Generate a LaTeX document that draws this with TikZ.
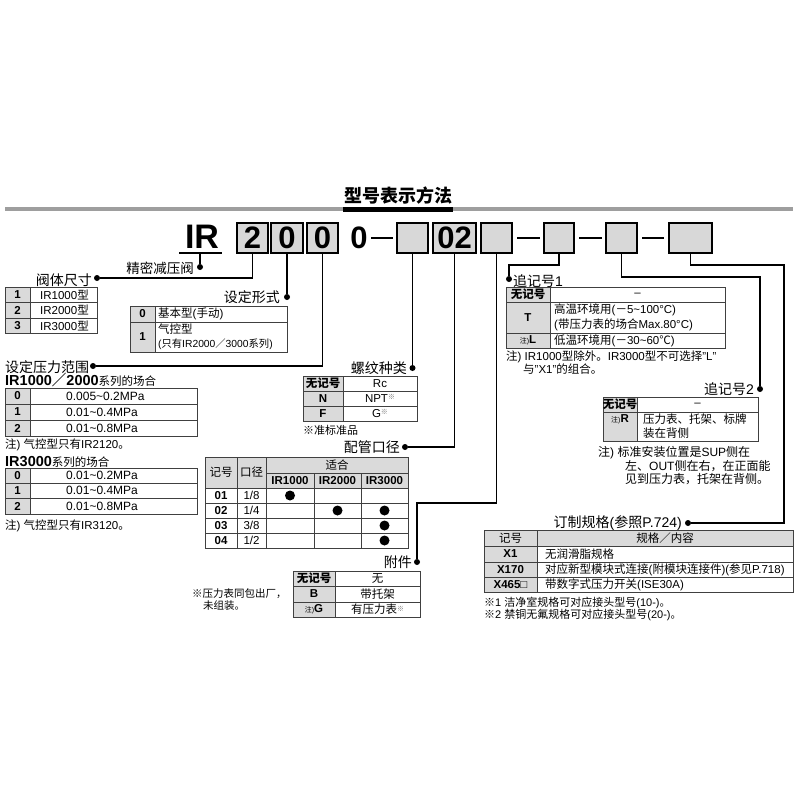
\documentclass[tikz,border=0pt]{standalone}
\usepackage{fontspec}
\setmainfont{Liberation Sans}
\newfontfamily\cjk{Noto Sans CJK SC}
\XeTeXinterchartokenstate=1
\newXeTeXintercharclass\cjkclass
\makeatletter
\count@="4E00
\loop \XeTeXcharclass\count@=\cjkclass \advance\count@ 1 \ifnum\count@<"A000 \repeat
\count@="3000
\loop \XeTeXcharclass\count@=\cjkclass \advance\count@ 1 \ifnum\count@<"3040 \repeat
\count@="FF00
\loop \XeTeXcharclass\count@=\cjkclass \advance\count@ 1 \ifnum\count@<"FFF0 \repeat
\makeatother
\XeTeXcharclass"203B=\cjkclass
\XeTeXcharclass"2103=\cjkclass
\XeTeXinterchartoks 0 \cjkclass = {\begingroup\cjk}
\XeTeXinterchartoks 4095 \cjkclass = {\begingroup\cjk}
\XeTeXinterchartoks \cjkclass 0 = {\endgroup}
\XeTeXinterchartoks \cjkclass 4095 = {\endgroup}
\newcommand\fsz[1]{\fontsize{#1}{#1}\selectfont}
\newcommand\tld{\char"7E\relax}
\newcommand\supmark{\raisebox{0.45ex}{\fsz{7}\color{black!55}※}}
\newcommand\zhu{{\fsz{7}注)}}
\definecolor{cellgray}{RGB}{218,218,218}
\definecolor{boxgray}{RGB}{216,216,216}
\definecolor{bargray}{RGB}{158,158,158}
\begin{document}
\begin{tikzpicture}[x=1pt,y=-1pt,
  lbl/.style={inner sep=0pt, font=\fsz{14}},
  tt/.style={inner sep=0pt, font=\fsz{11.5}},
  tb/.style={inner sep=0pt, font=\fsz{11.5}\bfseries},
  codebox/.style={draw, line width=1.2pt, fill=boxgray, minimum height=30pt, inner sep=0pt, font=\fsz{31}\bfseries},
  jdot/.style={circle, fill, inner sep=0pt, minimum size=6pt},
  conn/.style={line width=1.4pt},
  tbl/.style={draw=black!75, line width=0.7pt},
  pdot/.style={fill=black}]
\useasboundingbox (0,0) rectangle (800,800);
\fill[white] (0,0) rectangle (800,800);

% ---- title
\draw[line width=4pt, bargray] (5,209) -- (793,209);
\draw[line width=5pt] (343,209) -- (453,209);
\node[inner sep=0pt, font=\fsz{18}\bfseries] (title) at (398,196) {型号表示方法};

% ---- code row
\node[inner sep=0pt, font=\fsz{34}\bfseries] (ir) at (202,237) {IR};
\draw[line width=1.3pt] (179,253) -- (222,253);
\coordinate (iru) at (200,253);
\node[codebox, minimum width=31pt] (b1) at (252.5,238) {2};
\node[codebox, minimum width=32pt] (b2) at (287,238) {0};
\node[codebox, minimum width=31pt] (b3) at (322.5,238) {0};
\node[inner sep=0pt, font=\fsz{31}\bfseries] (z0) at (359,238) {0};
\draw[line width=1.6pt] (371,238) -- (393,238);
\node[codebox, minimum width=31pt] (b4) at (412.5,238) {};
\node[codebox, minimum width=43pt] (b5) at (454.5,238) {02};
\node[codebox, minimum width=31pt] (b6) at (496.5,238) {};
\draw[line width=1.6pt] (517,238) -- (540,238);
\node[codebox, minimum width=30pt] (b7) at (559,238) {};
\draw[line width=1.6pt] (579,238) -- (602,238);
\node[codebox, minimum width=31pt] (b8) at (621.5,238) {};
\draw[line width=1.6pt] (642,238) -- (664,238);
\node[codebox, minimum width=43pt] (b9) at (690.5,238) {};

% ---- dots and labels
\node[jdot] (d0) at (200,267) {};
\node[lbl, anchor=east, font=\fsz{13.5}] (l0) at (194,268) {精密减压阀};
\node[jdot] (d1) at (97,278) {};
\node[lbl, anchor=east] (l1) at (92,280) {阀体尺寸};
\node[jdot] (d2) at (287,297) {};
\node[lbl, anchor=east] (l2) at (280,297) {设定形式};
\node[jdot] (d3) at (93,366) {};
\node[lbl, anchor=west] (l3) at (5,367) {设定压力范围};
\node[jdot] (d4) at (412.5,368) {};
\node[lbl, anchor=east] (l4) at (407,368) {螺纹种类};
\node[jdot] (d5) at (405,447) {};
\node[lbl, anchor=east] (l5) at (400,447) {配管口径};
\node[jdot] (d6) at (417,562) {};
\node[lbl, anchor=east] (l6) at (412,562) {附件};
\node[jdot] (d7) at (509,279) {};
\node[lbl, anchor=west] (l7) at (513,281) {追记号1};
\node[jdot] (d8) at (760,389) {};
\node[lbl, anchor=east] (l8) at (754,389) {追记号2};
\node[jdot] (d9) at (688,523) {};
\node[lbl, anchor=east] (l9) at (682,523) {订制规格(参照P.724)};

\coordinate (k6) at (417,503);
\coordinate (k7) at (509,265);
\coordinate (k8) at (760,277);
\coordinate (k9) at (784,265);

% ---- connectors
\draw[conn] (iru) -- (d0);
\draw[conn] (b1.south) |- (d1);
\draw[conn] (b2.south) -- (d2);
\draw[conn] (b3.south) |- (d3);
\draw[conn] (b4.south) -- (d4);
\draw[conn] (b5.south) |- (d5);
\draw[conn] (b6.south) |- (k6) -- (d6);
\draw[conn] (b7.south) |- (k7) -- (d7);
\draw[conn] (b8.south) |- (k8) -- (d8);
\draw[conn] (b9.south) |- (k9) |- (d9);

% ---- T1 阀体尺寸
\fill[cellgray] (5,287) rectangle (30,333);
\draw[tbl] (5,287) rectangle (97,333);
\draw[tbl] (30,287) -- (30,333) (5,302) -- (97,302) (5,318) -- (97,318);
\node[tb] (t1a) at (17.5,294.5) {1};
\node[tb] (t1b) at (17.5,310) {2};
\node[tb] (t1c) at (17.5,325.5) {3};
\node[tt, anchor=west] (t1d) at (40,294.5) {IR1000型};
\node[tt, anchor=west] (t1e) at (40,310) {IR2000型};
\node[tt, anchor=west] (t1f) at (40,325.5) {IR3000型};

% ---- T2 设定形式
\fill[cellgray] (130,306) rectangle (155,352);
\draw[tbl] (130,306) rectangle (287,352);
\draw[tbl] (155,306) -- (155,352) (130,322) -- (287,322);
\node[tb] (t2a) at (142.5,314) {0};
\node[tb] (t2b) at (142.5,337) {1};
\node[tt, anchor=west] (t2c) at (158,314) {基本型(手动)};
\node[tt, anchor=west] (t2d) at (158,329.5) {气控型};
\node[inner sep=0pt, font=\fsz{10.3}, anchor=west] (t2e) at (158,344.5) {(只有IR2000／3000系列)};

% ---- T3 / T4 设定压力范围
\node[inner sep=0pt, anchor=west] (h3) at (5,380) {\fsz{14.5}\bfseries IR1000／2000\fsz{11.5}\mdseries 系列的场合};
\fill[cellgray] (5,388) rectangle (30,436);
\draw[tbl] (5,388) rectangle (197,436);
\draw[tbl] (30,388) -- (30,436) (5,404) -- (197,404) (5,420) -- (197,420);
\node[tb] (t3a) at (17.5,396) {0};
\node[tb] (t3b) at (17.5,412) {1};
\node[tb] (t3c) at (17.5,428) {2};
\node[tt, anchor=west, font=\fsz{12}] (t3d) at (66,396) {0.005\tld0.2MPa};
\node[tt, anchor=west, font=\fsz{12}] (t3e) at (66,412) {0.01\tld0.4MPa};
\node[tt, anchor=west, font=\fsz{12}] (t3f) at (66,428) {0.01\tld0.8MPa};
\node[tt, anchor=west] (n3) at (5,444.5) {注) 气控型只有IR2120。};

\node[inner sep=0pt, anchor=west] (h4) at (5,462) {\fsz{14.5}\bfseries IR3000\fsz{11.5}\mdseries 系列的场合};
\fill[cellgray] (5,468) rectangle (30,514);
\draw[tbl] (5,468) rectangle (197,514);
\draw[tbl] (30,468) -- (30,514) (5,483) -- (197,483) (5,498) -- (197,498);
\node[tb] (t4a) at (17.5,475.5) {0};
\node[tb] (t4b) at (17.5,490.5) {1};
\node[tb] (t4c) at (17.5,506) {2};
\node[tt, anchor=west, font=\fsz{12}] (t4d) at (66,475.5) {0.01\tld0.2MPa};
\node[tt, anchor=west, font=\fsz{12}] (t4e) at (66,490.5) {0.01\tld0.4MPa};
\node[tt, anchor=west, font=\fsz{12}] (t4f) at (66,506) {0.01\tld0.8MPa};
\node[tt, anchor=west] (n4) at (5,526) {注) 气控型只有IR3120。};

% ---- T5 螺纹种类
\fill[cellgray] (303,376) rectangle (343,421);
\draw[tbl] (303,376) rectangle (417,421);
\draw[tbl] (343,376) -- (343,421) (303,391) -- (417,391) (303,406) -- (417,406);
\node[tb] (t5a) at (323,383.5) {无记号};
\node[tb] (t5b) at (323,398.5) {N};
\node[tb] (t5c) at (323,413.5) {F};
\node[tt] (t5d) at (380,383.5) {Rc};
\node[tt] (t5e) at (380,398.5) {NPT\supmark};
\node[tt] (t5f) at (380,413.5) {G\supmark};
\node[tt, anchor=west, font=\fsz{11}] (n5) at (303,430.5) {※准标准品};

% ---- T6 配管口径
\fill[cellgray] (205,457) rectangle (408,488);
\draw[tbl] (205,457) rectangle (408,548);
\draw[tbl] (237,457) -- (237,548) (266,457) -- (266,548) (314,473) -- (314,548) (361,473) -- (361,548);
\draw[tbl] (266,473) -- (408,473) (205,488) -- (408,488) (205,503) -- (408,503) (205,518) -- (408,518) (205,533) -- (408,533);
\node[tt] (t6a) at (221,472.5) {记号};
\node[tt] (t6b) at (251.5,472.5) {口径};
\node[tt] (t6c) at (337,465) {适合};
\node[tb] (t6d) at (290,480.5) {IR1000};
\node[tb] (t6e) at (337.5,480.5) {IR2000};
\node[tb] (t6f) at (384.5,480.5) {IR3000};
\node[tb] (t6g) at (221,495.5) {01};
\node[tb] (t6h) at (221,510.5) {02};
\node[tb] (t6i) at (221,525.5) {03};
\node[tb] (t6j) at (221,540.5) {04};
\node[tt] (t6k) at (251.5,495.5) {1/8};
\node[tt] (t6l) at (251.5,510.5) {1/4};
\node[tt] (t6m) at (251.5,525.5) {3/8};
\node[tt] (t6n) at (251.5,540.5) {1/2};
\fill[pdot] (290,495.5) circle (5pt);
\fill[pdot] (337.5,510.5) circle (5pt);
\fill[pdot] (384.5,510.5) circle (5pt);
\fill[pdot] (384.5,525.5) circle (5pt);
\fill[pdot] (384.5,540.5) circle (5pt);

% ---- T7 附件
\fill[cellgray] (293,571) rectangle (335,617);
\draw[tbl] (293,571) rectangle (420,617);
\draw[tbl] (335,571) -- (335,617) (293,586) -- (420,586) (293,602) -- (420,602);
\node[tb] (t7a) at (314,578.5) {无记号};
\node[tb] (t7b) at (314,594) {B};
\node[tb] (t7c) at (314,609.5) {\mdseries\zhu\bfseries G};
\node[tt] (t7d) at (377.5,578.5) {无};
\node[tt] (t7e) at (377.5,594) {带托架};
\node[tt] (t7f) at (377.5,609.5) {有压力表\supmark};
\node[inner sep=0pt, anchor=west, font=\fsz{10.5}] (n7a) at (192,594) {※压力表同包出厂，};
\node[inner sep=0pt, anchor=west, font=\fsz{10.5}] (n7b) at (203,606) {未组装。};

% ---- T8 追记号1
\fill[cellgray] (506,287) rectangle (550,348);
\draw[tbl] (506,287) rectangle (725,348);
\draw[tbl] (550,287) -- (550,348) (506,302) -- (725,302) (506,333) -- (725,333);
\node[tb] (t8a) at (528,294.5) {无记号};
\node[tb] (t8b) at (528,317.5) {T};
\node[tb] (t8c) at (528,340.5) {\mdseries\zhu\bfseries L};
\node[tt] (t8d) at (637.5,294.5) {\textendash};
\node[tt, anchor=west] (t8e) at (554,310) {高温环境用(－5\tld100°C)};
\node[tt, anchor=west] (t8f) at (554,325) {(带压力表的场合Max.80°C)};
\node[tt, anchor=west] (t8g) at (554,340.5) {低温环境用(－30\tld60℃)};
\node[tt, anchor=west] (n8a) at (506,357) {注) IR1000型除外。IR3000型不可选择"L"};
\node[tt, anchor=west] (n8b) at (523,369) {与"X1"的组合。};

% ---- T9 追记号2
\fill[cellgray] (603,397) rectangle (637,441);
\draw[tbl] (603,397) rectangle (758,441);
\draw[tbl] (637,397) -- (637,441) (603,412) -- (758,412);
\node[tb] (t9a) at (620,404.5) {无记号};
\node[tb] (t9b) at (620,419) {\mdseries\zhu\bfseries R};
\node[tt] (t9c) at (697.5,404.5) {\textendash};
\node[tt, anchor=west] (t9d) at (643,419.5) {压力表、托架、标牌};
\node[tt, anchor=west] (t9e) at (643,433.5) {装在背侧};
\node[inner sep=0pt, anchor=west, font=\fsz{12}] (n9a) at (598,453) {注) 标准安装位置是SUP侧在};
\node[inner sep=0pt, anchor=west, font=\fsz{12}] (n9b) at (625,466) {左、OUT侧在右，在正面能};
\node[inner sep=0pt, anchor=west, font=\fsz{12}] (n9c) at (625,479) {见到压力表，托架在背侧。};

% ---- T10 订制规格
\fill[cellgray] (484,530) rectangle (793,546);
\fill[cellgray] (484,546) rectangle (537,592);
\draw[tbl] (484,530) rectangle (793,592);
\draw[tbl] (537,530) -- (537,592) (484,546) -- (793,546) (484,562) -- (793,562) (484,577) -- (793,577);
\node[tt] (t10a) at (510.5,538) {记号};
\node[tt] (t10b) at (665,538) {规格／内容};
\node[tb] (t10c) at (510.5,554) {X1};
\node[tb] (t10d) at (510.5,569.5) {X170};
\node[tb] (t10e) at (510.5,584.5) {X465□};
\node[tt, anchor=west] (t10f) at (545,554) {无润滑脂规格};
\node[tt, anchor=west] (t10g) at (545,569.5) {对应新型模块式连接(附模块连接件)(参见P.718)};
\node[tt, anchor=west] (t10h) at (545,584.5) {带数字式压力开关(ISE30A)};
\node[inner sep=0pt, anchor=west, font=\fsz{11}] (n10a) at (484,603) {※1 洁净室规格可对应接头型号(10-)。};
\node[inner sep=0pt, anchor=west, font=\fsz{11}] (n10b) at (484,615) {※2 禁铜无氟规格可对应接头型号(20-)。};
\end{tikzpicture}
\end{document}
